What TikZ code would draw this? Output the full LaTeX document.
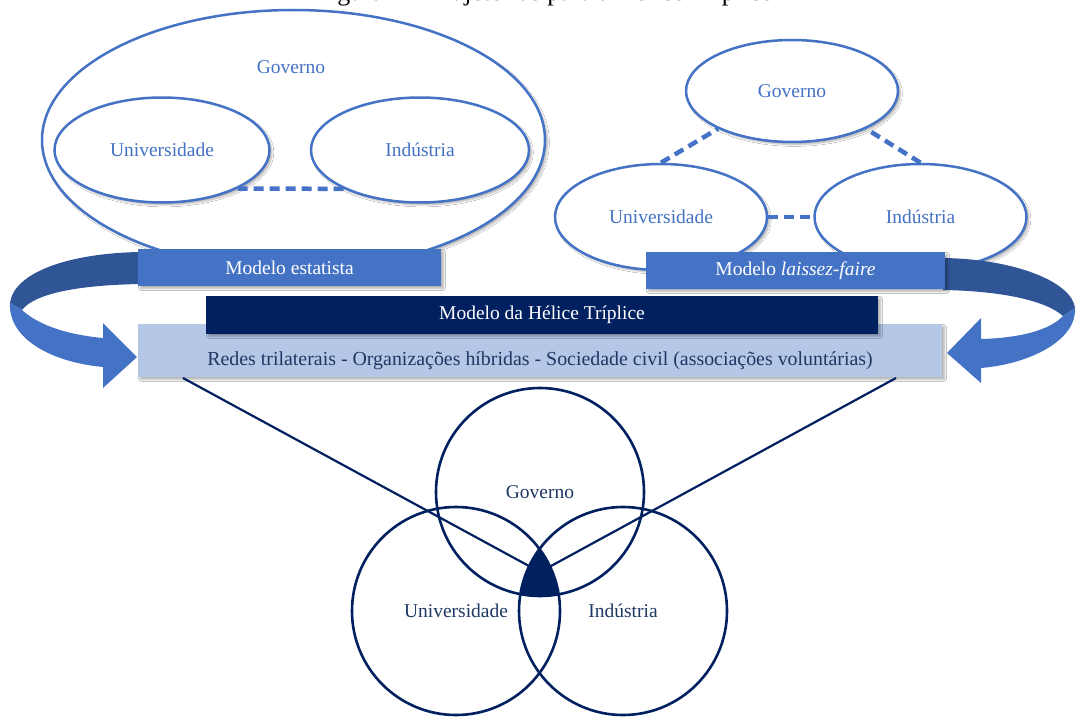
\documentclass[tikz,border=0pt]{standalone}
\usepackage{fontspec}
\setmainfont{Liberation Serif}
\usepackage{tikz}
\usetikzlibrary{shapes,arrows,positioning,calc,shadows.blur}

\definecolor{ofblue}{HTML}{4472C4}
\definecolor{ofdark}{HTML}{2F5597}
\definecolor{ofnavy}{HTML}{002060}
\definecolor{oflight}{HTML}{B4C7E7}
\definecolor{oftext}{HTML}{1F3864}

\begin{document}
\begin{tikzpicture}[x=1pt, y=-1pt, node distance=40pt]
\tikzset{
sphere/.style  = {draw=ofblue, line width=2.5pt, shape=ellipse, fill=white, inner sep=0pt, text=ofblue, font=\fontsize{19.5}{23}\selectfont,
                  blur shadow={shadow xshift=2.5pt, shadow yshift=-2.5pt, shadow opacity=30, shadow blur steps=5}},
model/.style   = {shape=rectangle, fill=ofblue, text=white, minimum height=37pt, inner sep=0pt, font=\fontsize{19.5}{23}\selectfont,
                  blur shadow={shadow xshift=2.5pt, shadow yshift=-2.5pt, shadow opacity=30, shadow blur steps=5}},
link/.style    = {draw=ofblue, line width=4.5pt, dash pattern=on 10pt off 6pt},
venn/.style    = {draw=ofnavy, line width=2.6pt, shape=circle, minimum size=208pt, inner sep=0pt, text=oftext, font=\fontsize{19.5}{23}\selectfont},
spoke/.style   = {draw=ofnavy, line width=2.2pt},
}

    \fill[white] (0,0) rectangle (1076,717);
    \useasboundingbox (0,0) rectangle (1076,717);

    % Caption (runs off the top edge)
    \node[anchor=base, inner sep=0pt, font=\fontsize{26}{30}\selectfont] (caption) at (544,1) {Figura 1 – Trajetórias para a Hélice Tríplice};

    % Statist model nodes
    \node [sphere, minimum width=503pt, minimum height=260pt] (est_gov) at (293.5,140) {};
    \node [text=ofblue, font=\fontsize{19.5}{23}\selectfont] (est_gov_text) at (291,67) {Governo};
    \node [sphere, minimum width=215pt, minimum height=105pt] (est_uni) at (162,150) {Universidade};
    \node [sphere, minimum width=218pt, minimum height=105pt, right=39pt of est_uni] (est_ind) {Indústria};
    % Statist model edges
    \draw [link] (est_uni.333) -- (est_ind.207);

    % Laissez-faire nodes
    \node [sphere, minimum width=212pt, minimum height=102pt] (lf_gov) at (792,91) {Governo};
    \node [sphere, minimum width=212pt, minimum height=106pt] (lf_uni) at (661,217) {Universidade};
    \node [sphere, minimum width=212pt, minimum height=106pt, right=45pt of lf_uni] (lf_ind) {Indústria};
    % Laissez-faire edges
    \draw [link] (lf_uni.north) -- (lf_gov.207);
    \draw [link] (lf_ind.north) -- (lf_gov.333);
    \draw [link] (lf_uni.east) -- (lf_ind.west);

    % Curved arrows into the network bar (back face dark, front face light)
    \fill [ofdark] (141,252) .. controls (70,253) and (14,272) .. (10,303) -- (22,310) .. controls (35,293) and (80,285) .. (141,284) -- cycle;
    \fill [ofblue] (10,303) .. controls (8,338) and (50,362) .. (103,367) -- (103,388) -- (137,357) -- (103,323) -- (103,338) .. controls (60,334) and (35,322) .. (22,310) -- cycle;
    \fill [ofdark] (943,258) .. controls (1015,259) and (1072,282) .. (1075,308) -- (1063,316) .. controls (1045,300) and (1000,291) .. (943,290) -- cycle;
    \fill [ofblue] (1075,308) .. controls (1077,340) and (1030,364) .. (981,368) -- (981,383) -- (947,353) -- (981,318) -- (981,339) .. controls (1020,338) and (1050,330) .. (1063,316) -- cycle;

    % Model bars
    \node [model, minimum width=303pt] (est_box) at (289.5,267.5) {Modelo estatista};
    \node [model, minimum width=299pt] (lf_box) at (795.5,270.5) {Modelo \textit{laissez-faire}};
    \node [model, fill=oflight, minimum width=804pt, minimum height=53pt] (net_box) at (540,350.5) {};
    \node [anchor=base, text=oftext, font=\fontsize{19.9}{23}\selectfont] (net_text) at (540,365) {Redes trilaterais - Organizações híbridas - Sociedade civil (associações voluntárias)};
    \node [model, fill=ofnavy, minimum width=672pt, minimum height=38pt] (helix_box) at (542,315) {Modelo da Hélice Tríplice};

    % Triple helix spokes
    \coordinate (net_l) at (183,378);
    \coordinate (net_r) at (896,378);
    \coordinate (core)  at (540,572);
    \draw [spoke] (net_l) -- (core);
    \draw [spoke] (net_r) -- (core);

    % Triple helix nodes
    \node [venn] (th_gov) at (540,492) {Governo};
    \node [venn] (th_uni) at (456,611) {Universidade};
    \node [venn] (th_ind) at (623,611) {Indústria};
    \begin{scope}
        \clip (th_gov.center) circle (104pt);
        \clip (th_uni.center) circle (104pt);
        \fill [ofnavy] (th_ind.center) circle (104pt);
    \end{scope}

\end{tikzpicture}
\end{document}
